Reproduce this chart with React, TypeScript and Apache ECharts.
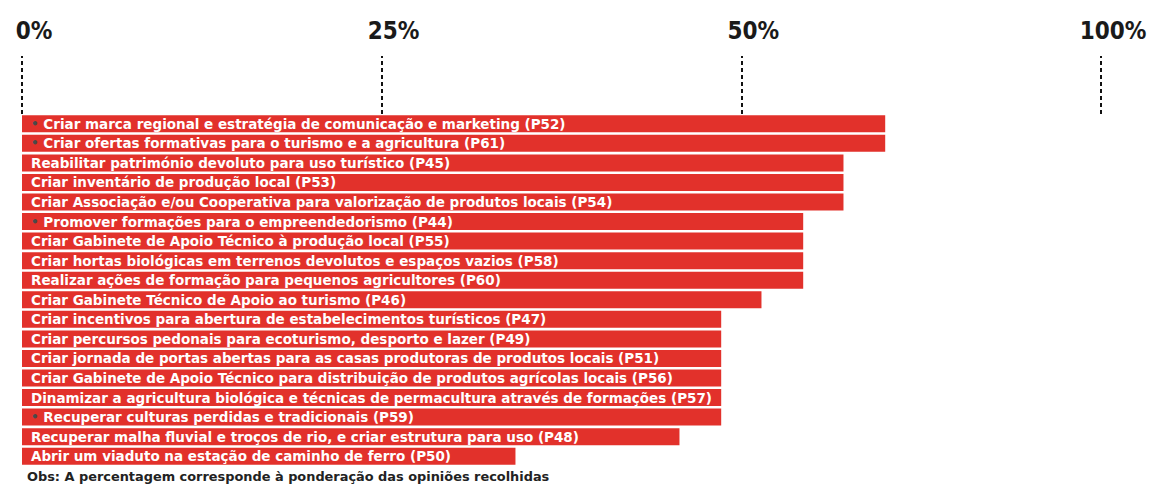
import React, { useEffect, useRef } from "react";
import * as echarts from "echarts";

const categories: string[] = [
  "Criar marca regional e estratégia de comunicação e marketing (P52)",
  "Criar ofertas formativas para o turismo e a agricultura (P61)",
  "Reabilitar património devoluto para uso turístico (P45)",
  "Criar inventário de produção local (P53)",
  "Criar Associação e/ou Cooperativa para valorização de produtos locais (P54)",
  "Promover formações para o empreendedorismo (P44)",
  "Criar Gabinete de Apoio Técnico à produção local (P55)",
  "Criar hortas biológicas em terrenos devolutos e espaços vazios (P58)",
  "Realizar ações de formação para pequenos agricultores (P60)",
  "Criar Gabinete Técnico de Apoio ao turismo (P46)",
  "Criar incentivos para abertura de estabelecimentos turísticos (P47)",
  "Criar percursos pedonais para ecoturismo, desporto e lazer (P49)",
  "Criar jornada de portas abertas para as casas produtoras de produtos locais (P51)",
  "Criar Gabinete de Apoio Técnico para distribuição de produtos agrícolas locais (P56)",
  "Dinamizar a agricultura biológica e técnicas de permacultura através de formações (P57)",
  "Recuperar culturas perdidas e tradicionais (P59)",
  "Recuperar malha fluvial e troços de rio, e criar estrutura para uso (P48)",
  "Abrir um viaduto na estação de caminho de ferro (P50)",
];

// bar lengths in axis units (as drawn on the original's axis)
const values: number[] = [
  60.0, 60.0, 57.1, 57.1, 57.1, 54.3, 54.3, 54.3, 54.3, 51.4, 48.6, 48.6, 48.6,
  48.6, 48.6, 48.6, 45.7, 34.3,
];

const marked: boolean[] = [
  true, true, false, false, false, true, false, false, false, false, false,
  false, false, false, false, true, false, false,
];

// tick positions on the axis and the labels printed at them
const tickValues: number[] = [0, 25, 50, 75];
const tickLabels: string[] = ["0%", "25%", "50%", "100%"];

const footnote = "Obs: A percentagem corresponde à ponderação das opiniões recolhidas";

export default function App() {
  const ref = useRef<HTMLDivElement>(null);
  useEffect(() => {
    if (!ref.current) return;
    const chart = echarts.init(ref.current, null, { renderer: "svg" });
    chart.setOption({
      animation: false,
      backgroundColor: "#ffffff",
      grid: { left: 22, right: 52, top: 114, bottom: 19, containLabel: false },
      xAxis: {
        type: "value",
        position: "top",
        min: 0,
        max: 75,
        interval: 25,
        splitLine: { show: false },
        axisLine: { show: false },
        axisTick: {
          show: true,
          length: 58,
          lineStyle: { color: "#111", width: 2, type: [4, 3] },
        },
        axisLabel: {
          margin: 71,
          fontFamily: "DejaVu Sans Condensed",
          fontWeight: "bold",
          fontSize: 24,
          color: "#1a1a1a",
          padding: [0, 0, 0, 24],
          formatter: (v: number) => {
            const i = tickValues.indexOf(v);
            return i >= 0 ? tickLabels[i] : "";
          },
        },
      },
      yAxis: {
        type: "category",
        inverse: true,
        data: categories,
        axisLine: { show: false },
        axisTick: { show: false },
        axisLabel: { show: false },
      },
      series: [
        {
          type: "bar",
          data: values.map((v, i) => ({ value: v, marked: marked[i] })),
          barCategoryGap: "13%",
          itemStyle: { color: "#e2312b" },
          label: {
            show: true,
            position: "insideLeft",
            distance: 9,
            formatter: (p: any) =>
              (marked[p.dataIndex] ? "{dot|•} " : "") + categories[p.dataIndex],
            color: "#ffffff",
            fontFamily: "DejaVu Sans",
            fontWeight: "bold",
            fontSize: 13.5,
            rich: {
              dot: { color: "#4a4a4a", fontSize: 12, fontFamily: "DejaVu Sans" },
            },
          },
        },
      ],
      graphic: [
        {
          type: "text",
          left: 27,
          top: 469.5,
          style: {
            text: footnote,
            fontFamily: "DejaVu Sans",
            fontWeight: "bold",
            fontSize: 12.9,
            fill: "#222222",
          },
        },
      ],
    });
    return () => chart.dispose();
  }, []);
  return (
    <div
      ref={ref}
      style={{ position: "fixed", left: 0, top: 0, width: 1153, height: 485 }}
    />
  );
}
